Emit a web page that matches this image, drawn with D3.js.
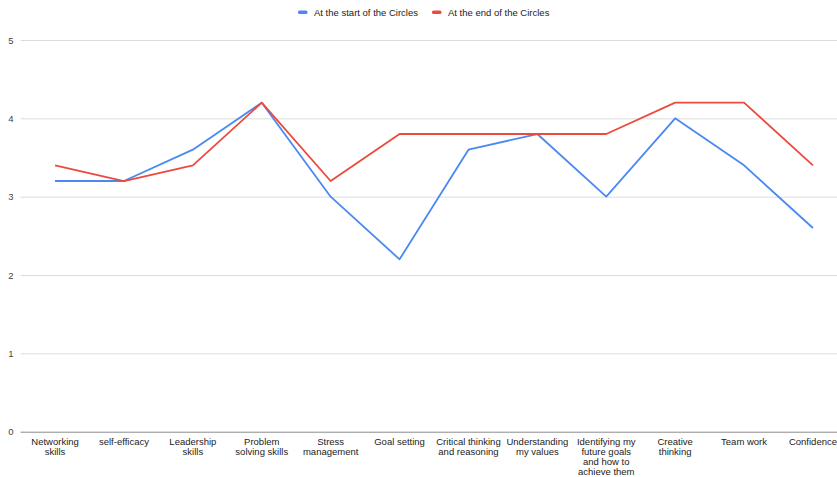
<!DOCTYPE html>
<html>
<head>
<meta charset="utf-8">
<script src="https://cdn.jsdelivr.net/npm/d3@7"></script>
<style>
  html, body { margin: 0; padding: 0; background: #fff; }
  svg { display: block; font-family: "Liberation Sans", Arial, sans-serif; }
</style>
</head>
<body>
<svg id="chart" width="837" height="477"></svg>
<script>
// Skill categories (each entry holds the wrapped lines of its axis label)
const categories = [
  ["Networking", "skills"],
  ["self-efficacy"],
  ["Leadership", "skills"],
  ["Problem", "solving skills"],
  ["Stress", "management"],
  ["Goal setting"],
  ["Critical thinking", "and reasoning"],
  ["Understanding", "my values"],
  ["Identifying my", "future goals", "and how to", "achieve them"],
  ["Creative", "thinking"],
  ["Team work"],
  ["Confidence"]
];
const startValues = [3.2, 3.2, 3.6, 4.2, 3.0, 2.2, 3.6, 3.8, 3.0, 4.0, 3.4, 2.6];
const endValues   = [3.4, 3.2, 3.4, 4.2, 3.2, 3.8, 3.8, 3.8, 3.8, 4.2, 4.2, 3.4];
const seriesNames = ["At the start of the Circles", "At the end of the Circles"];
const yTicks = [0, 1, 2, 3, 4, 5];

const colors = ["#4a88f2", "#eb4a3e"];
const svg = d3.select("#chart");

const plot = { left: 20.6, right: 847.4, top: 40, bottom: 431.7 };

const x = d3.scaleBand()
  .domain(d3.range(categories.length))
  .range([plot.left, plot.right])
  .padding(0);

const y = d3.scaleLinear()
  .domain([0, 5])
  .range([plot.bottom, plot.top]);

// horizontal gridlines and y tick labels
const yAxis = svg.append("g")
  .attr("transform", `translate(${plot.left},0)`)
  .call(d3.axisLeft(y).tickValues(yTicks).tickSize(-(837 - plot.left)).tickPadding(7).tickFormat(d3.format("d")));
yAxis.select(".domain").remove();
yAxis.selectAll(".tick line")
  .attr("stroke", d => d === 0 ? "#8a8a8a" : "#dcdcdc")
  .attr("stroke-width", 1);
yAxis.selectAll(".tick text")
  .attr("fill", "#444")
  .attr("font-size", "9.5px")
  .attr("font-family", "Liberation Sans, Arial, sans-serif");

// category labels, wrapped onto several lines
const xAxis = svg.append("g")
  .attr("transform", `translate(0,${plot.bottom})`)
  .call(d3.axisBottom(x).tickSize(0).tickFormat(""));
xAxis.select(".domain").remove();
xAxis.selectAll(".tick").each(function(i) {
  const t = d3.select(this).append("text")
    .attr("fill", "#222")
    .attr("font-size", "9.5px")
    .attr("font-family", "Liberation Sans, Arial, sans-serif")
    .attr("text-anchor", "middle");
  categories[i].forEach((line, k) => {
    t.append("tspan").attr("x", 0).attr("y", 13.3 + k * 10).text(line);
  });
});

// series lines
const line = d3.line()
  .x((d, i) => x(i) + x.bandwidth() / 2)
  .y(d => y(d));

[startValues, endValues].forEach((vals, s) => {
  svg.append("path")
    .datum(vals)
    .attr("fill", "none")
    .attr("stroke", colors[s])
    .attr("stroke-width", 1.8)
    .attr("stroke-linejoin", "round")
    .attr("d", line);
});

// legend
const legendItems = [
  { name: seriesNames[0], color: colors[0], x: 298 },
  { name: seriesNames[1], color: colors[1], x: 432 }
];
const legend = svg.append("g");
legendItems.forEach(it => {
  legend.append("rect")
    .attr("x", it.x).attr("y", 10.5)
    .attr("width", 9.5).attr("height", 3.5)
    .attr("rx", 1.5)
    .attr("fill", it.color);
  legend.append("text")
    .attr("x", it.x + 16).attr("y", 15.5)
    .attr("font-size", "9.5px")
    .attr("fill", "#222")
    .text(it.name);
});
</script>
</body>
</html>
